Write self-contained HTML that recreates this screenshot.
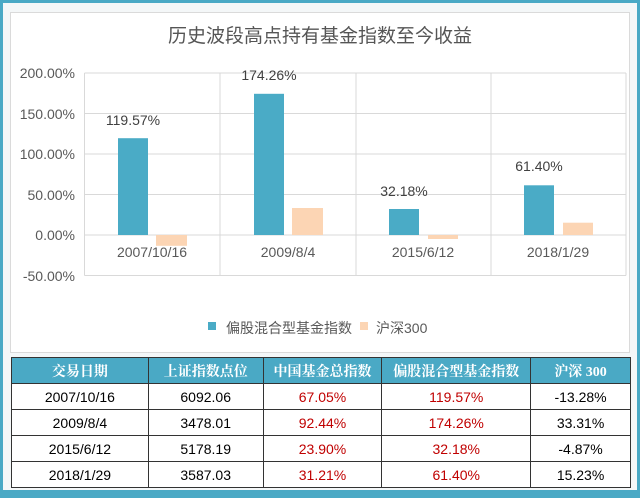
<!DOCTYPE html>
<html><head><meta charset="utf-8"><style>
html,body{margin:0;padding:0;}
body{width:640px;height:498px;position:relative;overflow:hidden;background:#4aa9c5;font-family:"Liberation Sans","Noto Sans CJK SC",sans-serif;}
#inner{position:absolute;left:3px;top:3px;width:634px;height:487px;background:#f4f7f8;}
#panel{position:absolute;left:10px;top:12px;width:618px;height:339px;background:#fff;border:1.5px solid #dadada;}
svg{position:absolute;left:0;top:0;}
table{position:absolute;left:11px;top:357px;width:620px;border-collapse:collapse;background:#fff;}
td,th{border:1px solid #333;text-align:center;font-size:14px;padding:0;height:25px;}
th{background:#4aa9c5;color:#fff;font-family:"Liberation Serif","Noto Serif CJK SC",serif;font-weight:bold;height:25px;}
.r{color:#c00000;}
</style></head><body>
<div id="inner"></div>
<div id="panel"></div>
<svg width="640" height="360" viewBox="0 0 640 360" font-family="Liberation Sans, Noto Sans CJK SC, sans-serif">
<text x="320" y="42" font-size="19" fill="#555" text-anchor="middle">历史波段高点持有基金指数至今收益</text>
<g stroke="#d9d9d9" stroke-width="1">
<line x1="84.5" y1="73" x2="626" y2="73"/>
<line x1="84.5" y1="113.5" x2="626" y2="113.5"/>
<line x1="84.5" y1="154" x2="626" y2="154"/>
<line x1="84.5" y1="194.5" x2="626" y2="194.5"/>
<line x1="84.5" y1="235" x2="626" y2="235"/>
<line x1="84.5" y1="275.5" x2="626" y2="275.5"/>
<line x1="84.5" y1="73" x2="84.5" y2="275.5"/>
<line x1="220" y1="73" x2="220" y2="275.5"/>
<line x1="356" y1="73" x2="356" y2="275.5"/>
<line x1="491" y1="73" x2="491" y2="275.5"/>
<line x1="626" y1="73" x2="626" y2="275.5"/>
</g>
<g font-size="14" fill="#595959" text-anchor="end">
<text x="75" y="78">200.00%</text>
<text x="75" y="119">150.00%</text>
<text x="75" y="159">100.00%</text>
<text x="75" y="200">50.00%</text>
<text x="75" y="240">0.00%</text>
<text x="75" y="281">-50.00%</text>
</g>
<g fill="#4aabc6">
<rect x="118" y="138.2" width="30" height="96.8"/>
<rect x="254" y="93.8" width="30" height="141.2"/>
<rect x="389" y="209" width="30" height="26"/>
<rect x="524" y="185.3" width="30" height="49.7"/>
</g>
<g fill="#fcd5b4">
<rect x="156" y="235" width="31" height="10.8"/>
<rect x="292" y="208" width="31" height="27"/>
<rect x="428" y="235" width="30" height="4"/>
<rect x="563" y="222.7" width="30" height="12.3"/>
</g>
<g font-size="14" fill="#404040" text-anchor="middle">
<text x="133" y="125">119.57%</text>
<text x="269" y="80">174.26%</text>
<text x="404" y="196">32.18%</text>
<text x="539" y="171">61.40%</text>
</g>
<g font-size="14" fill="#595959" text-anchor="middle">
<text x="152" y="257">2007/10/16</text>
<text x="288" y="257">2009/8/4</text>
<text x="423" y="257">2015/6/12</text>
<text x="558" y="257">2018/1/29</text>
</g>
<rect x="208" y="322" width="8" height="8" fill="#4aabc6"/>
<text x="226" y="333" font-size="14" fill="#595959">偏股混合型基金指数</text>
<rect x="360" y="322" width="8" height="8" fill="#fcd5b4"/>
<text x="376" y="333" font-size="14" fill="#595959">沪深300</text>
</svg>
<table>
<colgroup><col style="width:137px"><col style="width:115px"><col style="width:119px"><col style="width:149px"><col style="width:100px"></colgroup>
<tr><th>交易日期</th><th>上证指数点位</th><th>中国基金总指数</th><th>偏股混合型基金指数</th><th>沪深 300</th></tr>
<tr><td>2007/10/16</td><td>6092.06</td><td class="r">67.05%</td><td class="r">119.57%</td><td>-13.28%</td></tr>
<tr><td>2009/8/4</td><td>3478.01</td><td class="r">92.44%</td><td class="r">174.26%</td><td>33.31%</td></tr>
<tr><td>2015/6/12</td><td>5178.19</td><td class="r">23.90%</td><td class="r">32.18%</td><td>-4.87%</td></tr>
<tr><td>2018/1/29</td><td>3587.03</td><td class="r">31.21%</td><td class="r">61.40%</td><td>15.23%</td></tr>
</table>
</body></html>
